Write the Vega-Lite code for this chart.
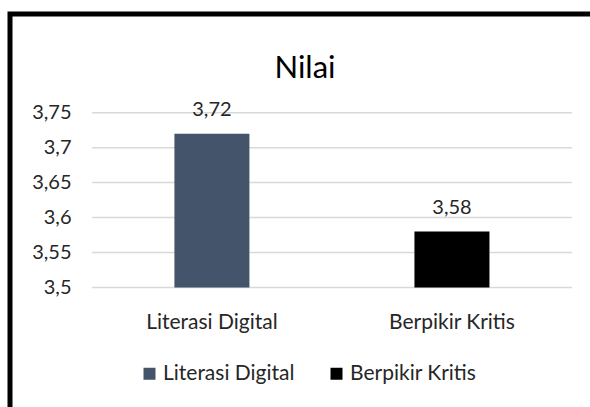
{
  "$schema": "https://vega.github.io/schema/vega-lite/v6.json",
  "width": 590,
  "height": 400,
  "autosize": {"type": "none"},
  "padding": {"left": 10, "top": 14, "right": -10, "bottom": -7},
  "background": "white",
  "config": {
    "locale": {"number": {"decimal": ",", "thousands": ".", "grouping": [3], "currency": ["", ""]}},
    "view": {"stroke": "black", "strokeWidth": 5},
    "font": "Lato"
  },
  "title": {"text": "Nilai", "fontSize": 31, "fontWeight": "normal", "color": "#000000", "offset": -67, "dy": 4, "anchor": "middle", "font": "Lato"},
  "datasets": {
    "bars": [
      {"kategori": "Literasi Digital", "nilai": 3.72},
      {"kategori": "Berpikir Kritis", "nilai": 3.58}
    ],
    "grid": [{"v": 3.5}, {"v": 3.55}, {"v": 3.6}, {"v": 3.65}, {"v": 3.7}, {"v": 3.75}]
  },
  "layer": [
    {
      "data": {"name": "grid"},
      "mark": {"type": "rule", "color": "#d9d9d9", "strokeWidth": 1.5},
      "encoding": {
        "x": {"datum": "Literasi Digital", "type": "nominal", "bandPosition": 0,
              "scale": {"domain": ["Literasi Digital", "Berpikir Kritis"], "paddingInner": 0, "paddingOuter": 0.229, "align": 0.745},
              "axis": {"orient": "bottom", "offset": -126.5, "labelPadding": 24, "domain": false, "ticks": false, "labelFontSize": 21, "labelAngle": 0, "labelColor": "#262626", "title": null}},
        "x2": {"datum": "Berpikir Kritis", "bandPosition": 1},
        "y": {"field": "v", "type": "quantitative",
              "scale": {"domain": [3.3193, 3.891], "nice": false, "zero": false},
              "axis": {"values": [3.5, 3.55, 3.6, 3.65, 3.7, 3.75], "format": ".2~f", "offset": -82, "labelPadding": 21, "domain": false, "ticks": false, "grid": false, "labelFontSize": 20, "labelColor": "#262626", "title": null}}
      }
    },
    {
      "data": {"name": "bars"},
      "mark": {"type": "bar", "width": 75},
      "encoding": {
        "x": {"field": "kategori", "type": "nominal", "sort": ["Literasi Digital", "Berpikir Kritis"],
              "scale": {"domain": ["Literasi Digital", "Berpikir Kritis"], "paddingInner": 0, "paddingOuter": 0.229, "align": 0.745},
              "axis": {"orient": "bottom", "offset": -126.5, "labelPadding": 24, "domain": false, "ticks": false, "labelFontSize": 21, "labelAngle": 0, "labelColor": "#262626", "title": null}},
        "y": {"field": "nilai", "type": "quantitative",
              "scale": {"domain": [3.3193, 3.891], "nice": false, "zero": false},
              "axis": {"values": [3.5, 3.55, 3.6, 3.65, 3.7, 3.75], "format": ".2~f", "offset": -82, "labelPadding": 21, "domain": false, "ticks": false, "grid": false, "labelFontSize": 20, "labelColor": "#262626", "title": null}},
        "y2": {"datum": 3.5},
        "color": {"field": "kategori", "type": "nominal",
                  "scale": {"domain": ["Literasi Digital", "Berpikir Kritis"], "range": ["#44546A", "#000000"]},
                  "legend": {"orient": "none", "legendX": 129, "legendY": 349, "direction": "horizontal", "title": null, "symbolType": "square", "symbolSize": 144, "symbolStrokeWidth": 0, "labelFontSize": 21, "labelColor": "#262626", "labelOffset": 3, "columnPadding": 31}}
      }
    },
    {
      "data": {"name": "bars"},
      "mark": {"type": "text", "dy": -18, "baseline": "alphabetic", "fontSize": 20, "color": "#262626"},
      "encoding": {
        "x": {"field": "kategori", "type": "nominal"},
        "y": {"field": "nilai", "type": "quantitative"},
        "text": {"field": "nilai", "type": "quantitative", "format": ".2f"}
      }
    }
  ]
}
